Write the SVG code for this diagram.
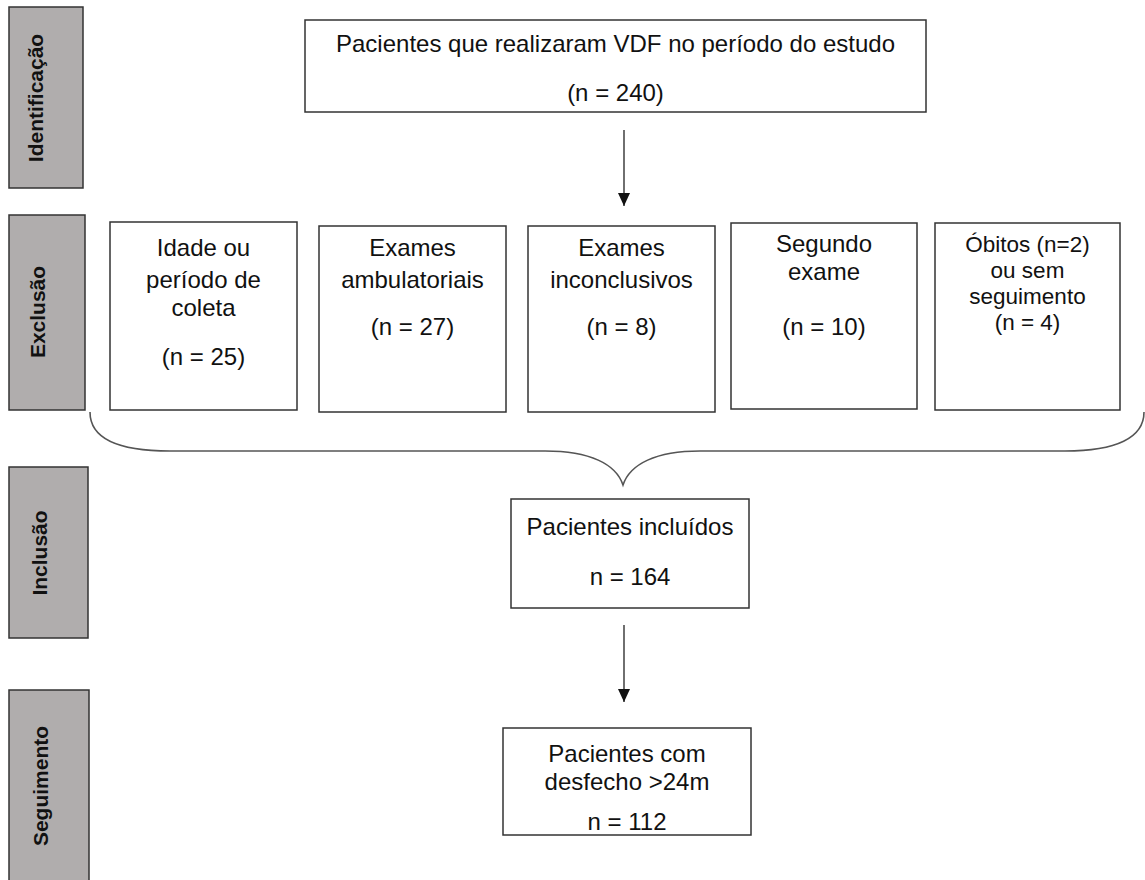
<svg xmlns="http://www.w3.org/2000/svg" width="1145" height="880" viewBox="0 0 1145 880">
<defs>
<style>
.lbl{fill:#b0adad;stroke:#333;stroke-width:1.5}
.lt{font-family:"Liberation Sans",Arial,sans-serif;font-size:21px;font-weight:bold;fill:#111;text-anchor:middle}
.box{fill:#fff;stroke:#333;stroke-width:1.5}
.t{font-family:"Liberation Sans",Arial,sans-serif;font-size:24px;fill:#111;text-anchor:middle}
.ts{font-size:22.5px}
.con{fill:none;stroke:#222;stroke-width:1.3}
.brace{fill:none;stroke:#555;stroke-width:1.6}
</style>
<marker id="ah" viewBox="0 0 13 12" refX="13" refY="6" markerWidth="13" markerHeight="12" markerUnits="userSpaceOnUse" orient="auto">
<path d="M0,0 L13,6 L0,12 Z" fill="#111"/>
</marker>
</defs>

<g id="label-identificacao">
<rect class="lbl" x="9" y="7" width="74" height="181"/>
<text class="lt" transform="translate(43,98) rotate(-90)">Identificação</text>
</g>
<g id="label-exclusao">
<rect class="lbl" x="9" y="215" width="76" height="195"/>
<text class="lt" transform="translate(45,312) rotate(-90)">Exclusão</text>
</g>
<g id="label-inclusao">
<rect class="lbl" x="9" y="467" width="79" height="171"/>
<text class="lt" transform="translate(47,553) rotate(-90)">Inclusão</text>
</g>
<g id="label-seguimento">
<rect class="lbl" x="9" y="690" width="80" height="200"/>
<text class="lt" transform="translate(48,786) rotate(-90)">Seguimento</text>
</g>

<g id="node-total">
<rect class="box" x="305" y="20" width="621" height="92"/>
<text class="t" x="615.5" y="52">Pacientes que realizaram VDF no período do estudo</text>
<text class="t" x="615.5" y="101">(n = 240)</text>
</g>

<g id="node-idade">
<rect class="box" x="110" y="222" width="187" height="188"/>
<text class="t" x="203.5" y="256">Idade ou</text>
<text class="t" x="203.5" y="288">período de</text>
<text class="t" x="203.5" y="316">coleta</text>
<text class="t" x="203.5" y="365">(n = 25)</text>
</g>
<g id="node-ambulatoriais">
<rect class="box" x="319" y="226" width="187" height="186"/>
<text class="t" x="412.5" y="256">Exames</text>
<text class="t" x="412.5" y="288">ambulatoriais</text>
<text class="t" x="412.5" y="335">(n = 27)</text>
</g>
<g id="node-inconclusivos">
<rect class="box" x="528" y="226" width="187" height="186"/>
<text class="t" x="621.5" y="256">Exames</text>
<text class="t" x="621.5" y="288">inconclusivos</text>
<text class="t" x="621.5" y="335">(n = 8)</text>
</g>
<g id="node-segundo">
<rect class="box" x="731" y="223" width="186" height="186"/>
<text class="t" x="824" y="252">Segundo</text>
<text class="t" x="824" y="280">exame</text>
<text class="t" x="824" y="335">(n = 10)</text>
</g>
<g id="node-obitos">
<rect class="box" x="935" y="223" width="185" height="187"/>
<text class="t ts" x="1027.5" y="252">Óbitos (n=2)</text>
<text class="t ts" x="1027.5" y="278">ou sem</text>
<text class="t ts" x="1027.5" y="304">seguimento</text>
<text class="t ts" x="1027.5" y="330">(n = 4)</text>
</g>

<g id="node-incluidos">
<rect class="box" x="511" y="499" width="238" height="109"/>
<text class="t" x="630" y="535">Pacientes incluídos</text>
<text class="t" x="630" y="585">n = 164</text>
</g>

<g id="node-desfecho">
<rect class="box" x="503" y="728" width="248" height="107"/>
<text class="t" x="627" y="762">Pacientes com</text>
<text class="t" x="627" y="790">desfecho &gt;24m</text>
<text class="t" x="627" y="830">n = 112</text>
</g>

<g id="connectors">
<line class="con" x1="624" y1="130" x2="624" y2="206" marker-end="url(#ah)"/>
<path class="brace" d="M90,412 C90,438 118,451 170,451 L545,451 C590,451 616,464 623,485 C630,464 656,451 700,451 L1065,451 C1116,451 1144,438 1144,412"/>
<line class="con" x1="624" y1="625" x2="624" y2="702" marker-end="url(#ah)"/>
</g>
</svg>
